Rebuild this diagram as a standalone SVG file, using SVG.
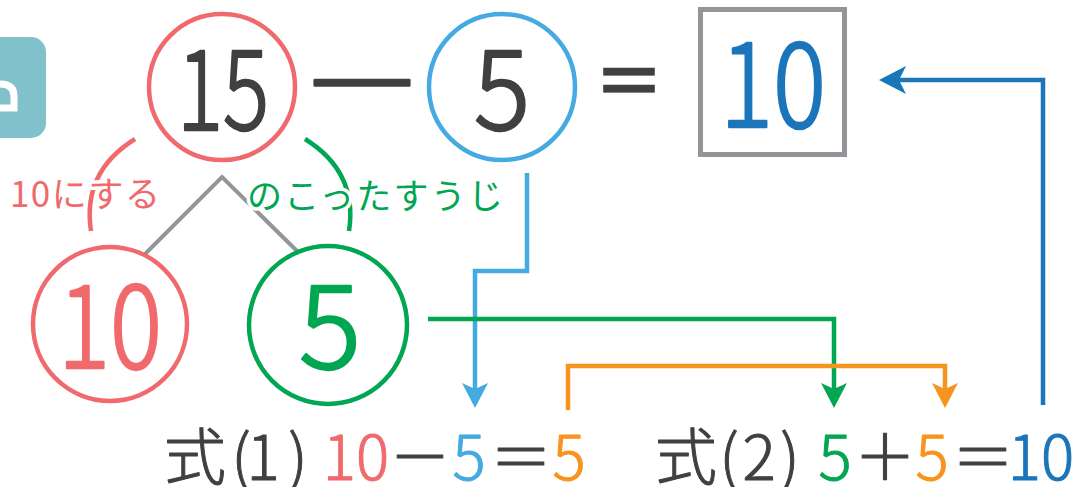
<svg xmlns="http://www.w3.org/2000/svg" width="1076" height="487" viewBox="0 0 1076 487">
<style>
.t{font-family:"Noto Sans CJK JP","Noto Sans",sans-serif;text-anchor:middle}
.num{font-weight:300;stroke-linejoin:round;stroke-linecap:round}
.big{stroke-width:2.5}
.sm{stroke-width:1}
.dk{fill:#404041;stroke:#404041}
.ring{fill:none;stroke-width:4.5}
.con{fill:none;stroke-width:4.5;stroke-linejoin:miter}
.halo{paint-order:stroke;stroke:#fff;stroke-width:7;stroke-linejoin:round}
</style>
<defs>
<marker id="mLB" viewBox="-26 -14 28 28" refX="-8" refY="0" markerWidth="28" markerHeight="28" markerUnits="userSpaceOnUse" orient="auto"><path d="M0,0 L-25,-13 L-19,0 L-25,13 Z" fill="#45aae1"/></marker>
<marker id="mG" viewBox="-26 -14 28 28" refX="-8" refY="0" markerWidth="28" markerHeight="28" markerUnits="userSpaceOnUse" orient="auto"><path d="M0,0 L-25,-13 L-19,0 L-25,13 Z" fill="#00a651"/></marker>
<marker id="mO" viewBox="-26 -14 28 28" refX="-8" refY="0" markerWidth="28" markerHeight="28" markerUnits="userSpaceOnUse" orient="auto"><path d="M0,0 L-25,-13 L-19,0 L-25,13 Z" fill="#f7941e"/></marker>
<marker id="mDB" viewBox="-28 -16 30 32" refX="-8" refY="0" markerWidth="30" markerHeight="32" markerUnits="userSpaceOnUse" orient="auto"><path d="M0,0 L-27,-14 L-20,0 L-27,14 Z" fill="#1b75bb"/></marker>
</defs>

<g id="badge">
<path d="M0,37 H31 A15,15 0 0 1 46,52 V123 A15,15 0 0 1 31,138 H0 Z" fill="#80c1cb"/>
<path d="M0,84 Q14,84 14,96 L14,108 H0" fill="none" stroke="#fff" stroke-width="7" stroke-linecap="round"/>
</g>

<g id="connectors">
<path d="M145,254 L222,177 L297,251" fill="none" stroke="#939598" stroke-width="4"/>
<path d="M135,139 Q82,172 91,231" fill="none" stroke="#f06a6d" stroke-width="4.5"/>
<path d="M305,139 Q358,172 349,231" fill="none" stroke="#00a651" stroke-width="4.5"/>
<path d="M527,173 V271 H475 V400" class="con" stroke="#45aae1" marker-end="url(#mLB)"/>
<path d="M428,319 H834 V400" class="con" stroke="#00a651" marker-end="url(#mG)"/>
<path d="M568,410 V366 H945 V400" class="con" stroke="#f7941e" marker-end="url(#mO)"/>
<path d="M1043,405 V80 H887" class="con" stroke="#1b75bb" marker-end="url(#mDB)"/>
</g>

<g id="n15">
<circle cx="222" cy="87" r="73" class="ring" stroke="#f06a6d"/>
<text x="223" y="130" class="t num big dk" font-size="112" textLength="92" lengthAdjust="spacingAndGlyphs">15</text>
</g>
<g id="minus">
<text x="362" y="124" class="t num big dk" font-size="110" textLength="128" lengthAdjust="spacingAndGlyphs">－</text>
</g>
<g id="n5top">
<circle cx="502" cy="87" r="73" class="ring" stroke="#45aae1"/>
<text x="502" y="130" class="t num big dk" font-size="112" textLength="56" lengthAdjust="spacingAndGlyphs">5</text>
</g>
<g id="equals">
<text x="629" y="108" class="t dk" font-size="72" font-weight="700" stroke-width="0.5">＝</text>
</g>
<g id="answer">
<rect x="700.5" y="9.5" width="144" height="145" fill="none" stroke="#939598" stroke-width="5"/>
<text x="773" y="127" class="t num big" font-size="118" fill="#1b75bb" stroke="#1b75bb" textLength="106" lengthAdjust="spacingAndGlyphs">10</text>
</g>

<g id="label10">
<text x="85" y="207" class="t halo" font-size="35" fill="#f06a6d" textLength="150">10にする</text>
</g>
<g id="labelRest">
<text x="375" y="209" class="t halo" font-size="35" fill="#00a651" textLength="256">のこったすうじ</text>
</g>

<g id="n10">
<circle cx="110" cy="324" r="77" class="ring" stroke="#f06a6d"/>
<text x="110" y="368" class="t num big" font-size="116" fill="#f06a6d" stroke="#f06a6d" textLength="104" lengthAdjust="spacingAndGlyphs">10</text>
</g>
<g id="n5">
<circle cx="328" cy="325" r="79" class="ring" stroke="#00a651"/>
<text x="330" y="368" class="t num big" font-size="116" fill="#00a651" stroke="#00a651">5</text>
</g>

<g id="eq1">
<text class="t num sm" font-size="62" y="480"><tspan x="195" fill="#404041" stroke="#404041">式</tspan><tspan x="241" fill="#404041" stroke="#404041">(</tspan><tspan x="263" fill="#404041" stroke="#404041">1</tspan><tspan x="298" fill="#404041" stroke="#404041">)</tspan><tspan x="356" fill="#f06a6d" stroke="#f06a6d">10</tspan><tspan x="420" fill="#404041" stroke="#404041">－</tspan><tspan x="469" fill="#45aae1" stroke="#45aae1">5</tspan><tspan x="521" fill="#404041" stroke="#404041">＝</tspan><tspan x="569" fill="#f7941e" stroke="#f7941e">5</tspan></text>
</g>
<g id="eq2">
<text class="t num sm" font-size="62" y="480"><tspan x="686" fill="#404041" stroke="#404041">式</tspan><tspan x="729" fill="#404041" stroke="#404041">(</tspan><tspan x="759" fill="#404041" stroke="#404041">2</tspan><tspan x="790" fill="#404041" stroke="#404041">)</tspan><tspan x="835" fill="#00a651" stroke="#00a651">5</tspan><tspan x="885" fill="#404041" stroke="#404041">＋</tspan><tspan x="932" fill="#f7941e" stroke="#f7941e">5</tspan><tspan x="983" fill="#404041" stroke="#404041">＝</tspan><tspan x="1041" fill="#1b75bb" stroke="#1b75bb">10</tspan></text>
</g>
</svg>
